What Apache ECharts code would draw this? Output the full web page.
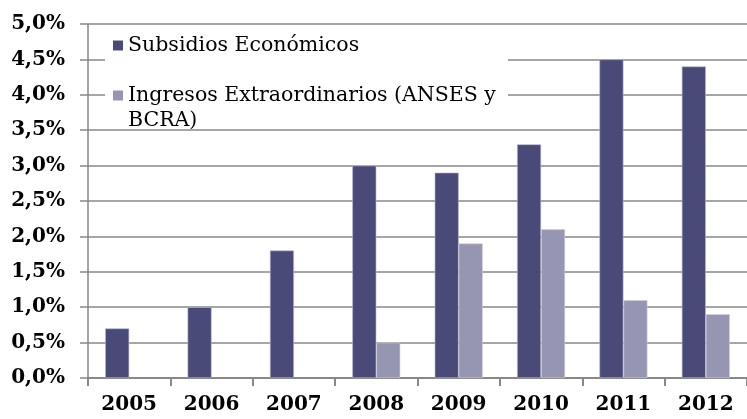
<!DOCTYPE html>
<html>
<head>
<meta charset="utf-8">
<script src="https://cdn.jsdelivr.net/npm/echarts@6/dist/echarts.min.js"></script>
<style>
  html, body { margin: 0; padding: 0; background: #fff; }
  #chart { width: 747px; height: 419px; }
</style>
</head>
<body>
<div id="chart"></div>
<script>
var years = ['2005', '2006', '2007', '2008', '2009', '2010', '2011', '2012'];
var subsidios = [0.7, 1.0, 1.8, 3.0, 2.9, 3.3, 4.5, 4.4];
var ingresos = [null, null, null, 0.5, 1.9, 2.1, 1.1, 0.9];
var yLabels = ['0,0%', '0,5%', '1,0%', '1,5%', '2,0%', '2,5%', '3,0%', '3,5%', '4,0%', '4,5%', '5,0%'];

var nameSub = 'Subsidios Económicos';
var nameIng = 'Ingresos Extraordinarios (ANSES y BCRA)';

var myChart = echarts.init(document.getElementById('chart'));
var option = {
    animation: false,
    grid: { left: 88, right: -7, top: 24, bottom: 41 },
    // fondo blanco detras de la leyenda
    graphic: [{
        type: 'rect', left: 105, top: 36, z: 1,
        shape: { width: 403, height: 90 },
        style: { fill: '#ffffff' }
    }],
    legend: {
        orient: 'vertical',
        left: 113,
        top: 33,
        padding: 0,
        itemGap: 0,
        itemWidth: 10,
        itemHeight: 10,
        icon: 'rect',
        itemStyle: { borderWidth: 0 },
        data: [nameSub, nameIng],
        formatter: function (name) {
            if (name === nameIng) {
                return ' \n' + name.replace(' BCRA', '\nBCRA');
            }
            return name;
        },
        textStyle: {
            fontFamily: 'DejaVu Serif',
            fontSize: 20.5,
            lineHeight: 25,
            color: '#000'
        }
    },
    xAxis: {
        type: 'category',
        data: years,
        axisLine: { lineStyle: { color: '#888', width: 2 } },
        axisTick: { show: true, length: 8, lineStyle: { color: '#888', width: 2 } },
        axisLabel: {
            margin: 17,
            fontFamily: 'DejaVu Serif',
            fontWeight: 'bold',
            fontSize: 20,
            color: '#000'
        }
    },
    yAxis: {
        type: 'value',
        min: 0,
        max: 5,
        interval: 0.5,
        axisLine: { show: true, lineStyle: { color: '#888', width: 1.5 } },
        axisTick: { show: true, length: 8, lineStyle: { color: '#888', width: 1.5 } },
        splitLine: { lineStyle: { color: '#888', width: 1.5 } },
        axisLabel: {
            margin: 23,
            fontFamily: 'DejaVu Serif',
            fontWeight: 'bold',
            fontSize: 20,
            color: '#000',
            formatter: function (v) { return yLabels[Math.round(v / 0.5)]; }
        }
    },
    series: [
        {
            name: nameSub,
            type: 'bar',
            data: subsidios,
            barWidth: 24,
            barGap: '0%',
            itemStyle: { color: '#4a4a78', borderColor: '#b8b8cc', borderWidth: 0.6 }
        },
        {
            name: nameIng,
            type: 'bar',
            data: ingresos,
            barWidth: 24,
            itemStyle: { color: '#9796b2', borderColor: '#d0d0dc', borderWidth: 0.6 }
        }
    ]
};
myChart.setOption(option);
</script>
</body>
</html>
